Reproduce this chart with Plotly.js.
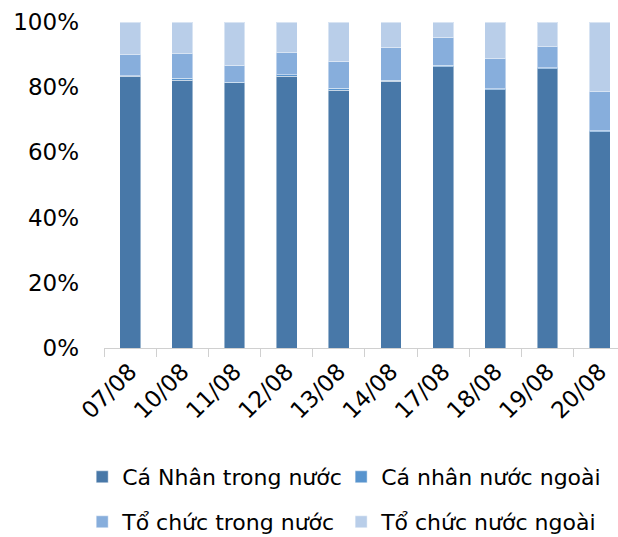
<!DOCTYPE html>
<html>
<head>
<meta charset="utf-8">
<script src="https://cdn.plot.ly/plotly-3.0.1.min.js"></script>
<style>html,body{margin:0;padding:0;background:#fff;}#chart{width:618px;height:537px;}</style>
</head>
<body>
<div id="chart"></div>
<script>
const dates = ["07/08","10/08","11/08","12/08","13/08","14/08","17/08","18/08","19/08","20/08"];
const seriesNames = ["Cá Nhân trong nước","Cá nhân nước ngoài","Tổ chức trong nước","Tổ chức nước ngoài"];
const caNhanTrongNuoc = [83.4, 82.2, 81.4, 83.4, 79.1, 81.8, 86.3, 79.2, 85.7, 66.3];
const caNhanNuocNgoai = [0.1, 0.5, 0.1, 0.4, 0.6, 0.3, 0.4, 0.4, 0.3, 0.3];
const toChucTrongNuoc = [6.4, 7.5, 5.2, 6.7, 8.3, 10.2, 8.7, 9.2, 6.4, 12.0];
const toChucNuocNgoai = [10.1, 9.8, 13.3, 9.5, 12.0, 7.7, 4.6, 11.2, 7.6, 21.4];
const yTickVals = [0, 20, 40, 60, 80, 100];
const yTickText = ["0%", "20%", "40%", "60%", "80%", "100%"];

const colors = ["#4878A8", "#5894CE", "#87AEDC", "#B9CEE9"];
const values = [caNhanTrongNuoc, caNhanNuocNgoai, toChucTrongNuoc, toChucNuocNgoai];
const legendIds = ["legend", "legend2", "legend3", "legend4"];
// legend placement (container fractions): [x, y]
const legendPos = [[0.133, 1 - 477/537], [0.552, 1 - 477/537], [0.133, 1 - 522/537], [0.552, 1 - 522/537]];

const font = "DejaVu Sans, Verdana, sans-serif";
const fs = 23;
const legendFs = 22;
const traces = values.map((v, i) => ({
  type: "bar",
  name: seriesNames[i],
  x: dates,
  y: v,
  legend: legendIds[i],
  marker: {color: colors[i], line: {color: "rgba(255,255,255,0.45)", width: 1}},
  hoverinfo: "skip"
}));

const layout = {
  width: 618, height: 537,
  margin: {l: 104, r: 0, t: 22, b: 189},
  paper_bgcolor: "#fff", plot_bgcolor: "#fff",
  barmode: "stack", bargap: 0.6,
  font: {family: font, size: fs, color: "#000"},
  xaxis: {
    type: "category", range: [-0.5, 9.35],
    showline: true, linecolor: "#D0D0D0", linewidth: 1,
    ticks: "outside", tickson: "boundaries", ticklen: 8, tickcolor: "#D0D0D0",
    tickangle: -45, tickfont: {family: font, size: fs, color: "#000"},
    showgrid: false, zeroline: false, fixedrange: true
  },
  yaxis: {
    range: [0, 100], tickvals: yTickVals, ticktext: yTickText,
    showline: false, showgrid: false, zeroline: false,
    ticks: "", ticklabelstandoff: 24,
    tickfont: {family: font, size: fs, color: "#000"}, fixedrange: true
  },
  showlegend: true
};
legendIds.forEach((id, i) => {
  layout[id] = {
    orientation: "h",
    xref: "container", yref: "container",
    x: legendPos[i][0], y: legendPos[i][1],
    xanchor: "left", yanchor: "middle",
    font: {family: font, size: legendFs, color: "#000"},
    bgcolor: "rgba(0,0,0,0)",
    itemclick: false, itemdoubleclick: false
  };
});

Plotly.newPlot("chart", traces, layout, {displayModeBar: false, staticPlot: true});
</script>
</body>
</html>
